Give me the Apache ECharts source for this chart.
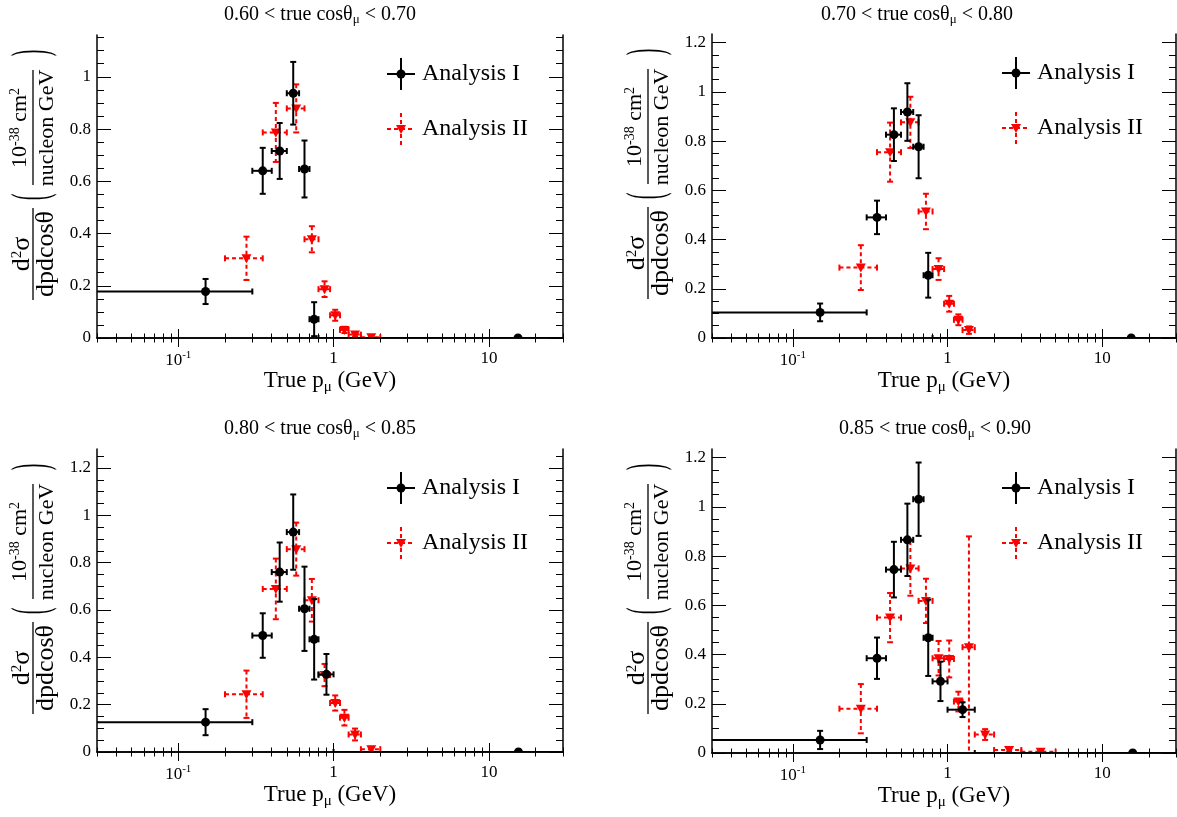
<!DOCTYPE html>
<html><head><meta charset="utf-8">
<script src="https://cdn.jsdelivr.net/npm/echarts@6/dist/echarts.min.js"></script>
<style>html,body{margin:0;padding:0;background:#fff}#c{width:1177px;height:817px}</style>
</head><body><div id="c"></div>
<script>
// ---------- data ----------
const TITLES = ['0.60 < true cos\u03b8{sub|\u03bc} < 0.70','0.70 < true cos\u03b8{sub|\u03bc} < 0.80','0.80 < true cos\u03b8{sub|\u03bc} < 0.85','0.85 < true cos\u03b8{sub|\u03bc} < 0.90'];
const YMAX = [1.16, 1.235, 1.28, 1.235];
const X_MAJOR = [0.1, 1, 10];
const X_MINOR = [0.03,0.04,0.05,0.06,0.07,0.08,0.09,0.2,0.3,0.4,0.5,0.6,0.7,0.8,0.9,2,3,4,5,6,7,8,9,20,30];

// Panel 1 : 0.60 - 0.70
const P1_A1_X  = [0.15,0.35,0.45,0.55,0.65,0.75,15.4];
const P1_A1_LO = [0,0.3,0.4,0.5,0.6,0.7,0.8];
const P1_A1_HI = [0.3,0.4,0.5,0.6,0.7,0.8,30];
const P1_A1_Y  = [0.178,0.64,0.716,0.937,0.647,0.072,0.0];
const P1_A1_E  = [0.048,0.088,0.107,0.12,0.109,0.065,0];
const P1_A2_X  = [0.275,0.425,0.575,0.725,0.875,1.025,1.175,1.375,1.75];
const P1_A2_LO = [0.2,0.35,0.5,0.65,0.8,0.95,1.1,1.25,1.5];
const P1_A2_HI = [0.35,0.5,0.65,0.8,0.95,1.1,1.25,1.5,2.0];
const P1_A2_Y  = [0.305,0.787,0.879,0.378,0.187,0.087,0.031,0.013,0.003];
const P1_A2_E  = [0.083,0.113,0.092,0.05,0.03,0.021,0.012,0.007,0.004];

// Panel 2 : 0.70 - 0.80
const P2_A1_X  = [0.15,0.35,0.45,0.55,0.65,0.75,15.4];
const P2_A1_LO = [0,0.3,0.4,0.5,0.6,0.7,0.8];
const P2_A1_HI = [0.3,0.4,0.5,0.6,0.7,0.8,30];
const P2_A1_Y  = [0.104,0.49,0.826,0.918,0.777,0.255,0.0];
const P2_A1_E  = [0.036,0.068,0.107,0.117,0.128,0.091,0];
const P2_A2_X  = [0.275,0.425,0.575,0.725,0.875,1.025,1.175,1.375];
const P2_A2_LO = [0.2,0.35,0.5,0.65,0.8,0.95,1.1,1.25];
const P2_A2_HI = [0.35,0.5,0.65,0.8,0.95,1.1,1.25,1.5];
const P2_A2_Y  = [0.286,0.755,0.876,0.514,0.28,0.139,0.074,0.032];
const P2_A2_E  = [0.091,0.12,0.104,0.072,0.044,0.032,0.022,0.015];

// Panel 3 : 0.80 - 0.85
const P3_A1_X  = [0.15,0.35,0.45,0.55,0.65,0.75,0.9,15.5];
const P3_A1_LO = [0,0.3,0.4,0.5,0.6,0.7,0.8,1.0];
const P3_A1_HI = [0.3,0.4,0.5,0.6,0.7,0.8,1.0,30];
const P3_A1_Y  = [0.126,0.492,0.76,0.929,0.605,0.476,0.328,0.0];
const P3_A1_E  = [0.055,0.094,0.125,0.159,0.178,0.17,0.086,0];
const P3_A2_X  = [0.275,0.425,0.575,0.725,0.875,1.025,1.175,1.375,1.75];
const P3_A2_LO = [0.2,0.35,0.5,0.65,0.8,0.95,1.1,1.25,1.5];
const P3_A2_HI = [0.35,0.5,0.65,0.8,0.95,1.1,1.25,1.5,2.0];
const P3_A2_Y  = [0.244,0.689,0.857,0.641,0.325,0.207,0.145,0.074,0.012];
const P3_A2_E  = [0.1,0.128,0.112,0.09,0.047,0.032,0.033,0.025,0.01];

// Panel 4 : 0.85 - 0.90
const P4_A1_X  = [0.15,0.35,0.45,0.55,0.65,0.75,0.9,1.25,15.75];
const P4_A1_LO = [0,0.3,0.4,0.5,0.6,0.7,0.8,1.0,1.5];
const P4_A1_HI = [0.3,0.4,0.5,0.6,0.7,0.8,1.0,1.5,30];
const P4_A1_Y  = [0.053,0.385,0.745,0.866,1.031,0.468,0.291,0.176,0.0];
const P4_A1_E  = [0.037,0.084,0.113,0.147,0.149,0.155,0.08,0.03,0];
const P4_A2_X  = [0.275,0.425,0.575,0.725,0.875,1.025,1.175,1.375,1.75,2.5,4.0];
const P4_A2_LO = [0.2,0.35,0.5,0.65,0.8,0.95,1.1,1.25,1.5,2.0,3.0];
const P4_A2_HI = [0.35,0.5,0.65,0.8,0.95,1.1,1.25,1.5,2.0,3.0,5.0];
const P4_A2_Y  = [0.18,0.55,0.75,0.618,0.385,0.382,0.209,0.43,0.075,0.012,0.005];
const P4_A2_E  = [0.1,0.1,0.111,0.09,0.07,0.075,0.04,0.45,0.022,0.008,0.004];

// ---------- build ----------
const XMIN = 0.03, XMAX = 30;
const FONT = '"Liberation Serif","DejaVu Serif",serif';
const GRIDS = [
  {left:97, top:35, width:466, height:303},
  {left:712, top:34, width:464, height:304},
  {left:97, top:449, width:466, height:303},
  {left:712, top:449, width:464, height:304}
];
const SETS = [
  [[P1_A1_X,P1_A1_LO,P1_A1_HI,P1_A1_Y,P1_A1_E],[P1_A2_X,P1_A2_LO,P1_A2_HI,P1_A2_Y,P1_A2_E]],
  [[P2_A1_X,P2_A1_LO,P2_A1_HI,P2_A1_Y,P2_A1_E],[P2_A2_X,P2_A2_LO,P2_A2_HI,P2_A2_Y,P2_A2_E]],
  [[P3_A1_X,P3_A1_LO,P3_A1_HI,P3_A1_Y,P3_A1_E],[P3_A2_X,P3_A2_LO,P3_A2_HI,P3_A2_Y,P3_A2_E]],
  [[P4_A1_X,P4_A1_LO,P4_A1_HI,P4_A1_Y,P4_A1_E],[P4_A2_X,P4_A2_LO,P4_A2_HI,P4_A2_Y,P4_A2_E]]
];

function rows(s){ return s[0].map((x,i)=>[x,s[1][i],s[2][i],s[3][i],s[4][i]]); }
function steps(max, st){ const a=[]; for(let i=0;i*st<=max+1e-9;i++) a.push(+(i*st).toFixed(3)); return a; }

const lineStyle = {color:'#000', width:1.5};
const xAxes=[], yAxes=[], series=[], graphic=[];
const TL = {color:'#000', width:1};

function xLabel(v){
  if (Math.abs(v-0.1)<1e-6) return '{n|10}{sup|-1}';
  if (Math.abs(v-1)<1e-6) return '{n|1}';
  if (Math.abs(v-10)<1e-6) return '{n|10}';
  return '';
}
function tick(len, vals){ return {show:true, inside:true, length:len, customValues:vals, lineStyle:TL}; }

GRIDS.forEach((g,gi)=>{
  const base = {type:'log', logBase:10, min:XMIN, max:XMAX, gridIndex:gi, splitLine:{show:false}};
  xAxes.push(Object.assign({}, base, {position:'bottom', axisLine:{show:true,lineStyle},
    axisTick:tick(9, X_MAJOR),
    axisLabel:{show:true, customValues:X_MAJOR, margin:12, formatter:xLabel,
      rich:{n:{fontFamily:FONT,fontSize:17,color:'#000',verticalAlign:'bottom'},
            sup:{fontFamily:FONT,fontSize:11,color:'#000',verticalAlign:'bottom',padding:[0,0,8,0]}}},
    name:'True p{sub|\u03bc} (GeV)', nameLocation:'middle', nameGap:24,
    nameTextStyle:{fontFamily:FONT,fontSize:23,color:'#000',
      rich:{sub:{fontFamily:FONT,fontSize:15,color:'#000',verticalAlign:'top',padding:[12,0,0,0]}}}
  }));
  xAxes.push(Object.assign({}, base, {position:'bottom', axisLine:{show:false},
    axisTick:tick(4.5, X_MINOR), axisLabel:{show:false}}));
  xAxes.push(Object.assign({}, base, {position:'top', axisLine:{show:true,lineStyle},
    axisTick:tick(9, X_MAJOR), axisLabel:{show:false}}));
  xAxes.push(Object.assign({}, base, {position:'top', axisLine:{show:false},
    axisTick:tick(4.5, X_MINOR), axisLabel:{show:false}}));

  const ymaj = steps(Math.min(YMAX[gi],1.2), 0.2);
  const ymin = steps(YMAX[gi], 0.05);
  const ybase = {type:'value', min:0, max:YMAX[gi], gridIndex:gi, splitLine:{show:false}};
  yAxes.push(Object.assign({}, ybase, {position:'left', axisLine:{show:true,lineStyle},
    axisTick:tick(14, ymaj),
    axisLabel:{show:true, customValues:ymaj, margin:6, fontFamily:FONT, fontSize:17, color:'#000',
      formatter:v=>String(+v.toFixed(2))}}));
  yAxes.push(Object.assign({}, ybase, {position:'left', axisLine:{show:false},
    axisTick:tick(7, ymin), axisLabel:{show:false}}));
  yAxes.push(Object.assign({}, ybase, {position:'right', axisLine:{show:true,lineStyle},
    axisTick:tick(14, ymaj), axisLabel:{show:false}}));
  yAxes.push(Object.assign({}, ybase, {position:'right', axisLine:{show:false},
    axisTick:tick(7, ymin), axisLabel:{show:false}}));

  // series: Analysis II (red) then Analysis I (black)
  [1,0].forEach(k=>{
    const red = k===1;
    const color = red ? '#ff0000' : '#000000';
    const dash = red ? [4,3] : null;
    series.push({
      type:'custom', name: red?'Analysis II':'Analysis I', xAxisIndex:gi*4, yAxisIndex:gi*4,
      clip:true, data: rows(SETS[gi][k]), encode:{x:0,y:3}, z: red?2:3,
      renderItem:(params, api)=>{
        const x=api.value(0), lo0=api.value(1), hi0=api.value(2), y=api.value(3), e=api.value(4);
        const lo=Math.max(lo0,XMIN), hi=Math.min(hi0,XMAX);
        const c=api.coord([x,y]), l=api.coord([lo,y]), h=api.coord([hi,y]);
        const st={stroke:color, lineWidth:2, lineDash:dash, fill:null};
        const ch=[];
        const cap=3;
        ch.push({type:'line', shape:{x1:l[0],y1:c[1],x2:h[0],y2:c[1]}, style:st});
        if (lo0>=XMIN) ch.push({type:'line', shape:{x1:l[0],y1:c[1]-cap,x2:l[0],y2:c[1]+cap}, style:{stroke:color,lineWidth:2}});
        if (hi0<XMAX) ch.push({type:'line', shape:{x1:h[0],y1:c[1]-cap,x2:h[0],y2:c[1]+cap}, style:{stroke:color,lineWidth:2}});
        if (e>0){
          const t=api.coord([x,y+e]), b=api.coord([x,y-e]);
          ch.push({type:'line', shape:{x1:c[0],y1:t[1],x2:c[0],y2:b[1]}, style:st});
          ch.push({type:'line', shape:{x1:c[0]-cap,y1:t[1],x2:c[0]+cap,y2:t[1]}, style:{stroke:color,lineWidth:2}});
          ch.push({type:'line', shape:{x1:c[0]-cap,y1:b[1],x2:c[0]+cap,y2:b[1]}, style:{stroke:color,lineWidth:2}});
        }
        if (red) ch.push({type:'polygon', shape:{points:[[c[0]-5,c[1]-4],[c[0]+5,c[1]-4],[c[0],c[1]+5]]}, style:{fill:color}});
        else ch.push({type:'circle', shape:{cx:c[0],cy:c[1],r:4.5}, style:{fill:color}});
        return {type:'group', children:ch};
      }
    });
  });

  // panel title
  const titleX = [320, 917, 320, 935][gi];
  const titleY = [15, 15, 429, 429][gi];
  graphic.push({type:'text', x:titleX, y:titleY, style:{text:TITLES[gi], align:'center', verticalAlign:'middle',
    font:'20px '+FONT, fill:'#000', rich:{sub:{font:'13px '+FONT, fill:'#000', padding:[9,0,0,0]}}}});

  // legend
  const lx = g.left + 304, ly = g.top + 39;
  graphic.push({type:'group', x:lx, y:ly, children:[
    {type:'line', shape:{x1:-14,y1:0,x2:14,y2:0}, style:{stroke:'#000',lineWidth:2}},
    {type:'line', shape:{x1:0,y1:-16,x2:0,y2:16}, style:{stroke:'#000',lineWidth:2}},
    {type:'circle', shape:{cx:0,cy:0,r:4.5}, style:{fill:'#000'}},
    {type:'text', x:21, y:0, style:{text:'Analysis I', verticalAlign:'middle', font:'24px '+FONT, fill:'#000'}},
    {type:'line', shape:{x1:-14,y1:55,x2:14,y2:55}, style:{stroke:'#ff0000',lineWidth:2,lineDash:[4,3]}},
    {type:'line', shape:{x1:0,y1:39,x2:0,y2:73}, style:{stroke:'#ff0000',lineWidth:2,lineDash:[4,3]}},
    {type:'polygon', shape:{points:[[-5,51],[5,51],[0,60]]}, style:{fill:'#ff0000'}},
    {type:'text', x:21, y:55, style:{text:'Analysis II', verticalAlign:'middle', font:'24px '+FONT, fill:'#000'}}
  ]});

  // y-axis title (rotated)
  const X0 = g.left - 97, Yb = g.top + 265;
  const richS = {sup:{font:'15px '+FONT, fill:'#000', padding:[0,0,10,0]}};
  graphic.push({type:'group', x:X0, y:Yb, rotation:Math.PI/2, children:[
    {type:'text', x:46, y:22, style:{text:'d{sup|2}\u03c3', align:'center', verticalAlign:'middle', font:'26px '+FONT, fill:'#000', rich:richS}},
    {type:'line', shape:{x1:0,y1:33,x2:92,y2:33}, style:{stroke:'#000',lineWidth:1.3}},
    {type:'text', x:46, y:46, style:{text:'dpdcos\u03b8', align:'center', verticalAlign:'middle', font:'26px '+FONT, fill:'#000'}},
    {type:'text', x:103, y:33, scaleX:0.4, style:{text:'(', align:'center', verticalAlign:'middle', font:'50px '+FONT, fill:'#000'}},
    {type:'text', x:172, y:20, style:{text:'10{sup|-38} cm{sup|2}', align:'center', verticalAlign:'middle', font:'22px '+FONT, fill:'#000',
      rich:{sup:{font:'14px '+FONT, fill:'#000', padding:[0,0,9,0]}}}},
    {type:'line', shape:{x1:115,y1:33,x2:230,y2:33}, style:{stroke:'#000',lineWidth:1.3}},
    {type:'text', x:172, y:47, style:{text:'nucleon GeV', align:'center', verticalAlign:'middle', font:'22px '+FONT, fill:'#000'}},
    {type:'text', x:247, y:33, scaleX:0.4, style:{text:')', align:'center', verticalAlign:'middle', font:'50px '+FONT, fill:'#000'}}
  ]});
});

const chart = echarts.init(document.getElementById('c'), null, {renderer:'canvas'});
chart.setOption({
  animation:false, backgroundColor:'#fff',
  grid: GRIDS.map(g=>Object.assign({containLabel:false}, g)),
  xAxis:xAxes, yAxis:yAxes, series, graphic
});
</script></body></html>
